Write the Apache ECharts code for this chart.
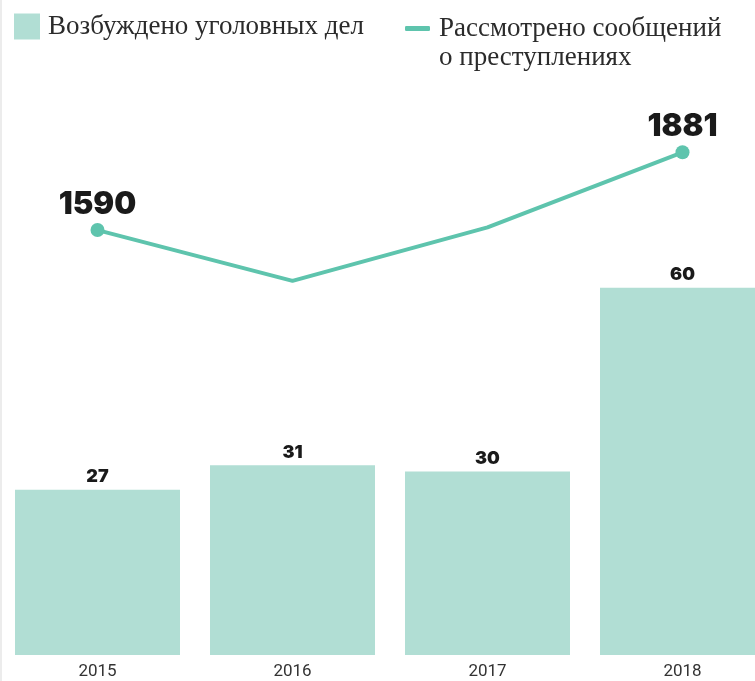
<!DOCTYPE html>
<html><head><meta charset="utf-8">
<script src="https://cdn.jsdelivr.net/npm/echarts@6/dist/echarts.min.js"></script>
<style>
html,body{margin:0;padding:0;overflow:hidden;background:#fff;width:755px;height:681px;}
#c{position:absolute;left:0;top:0;width:780px;height:681px;}
#edge{position:absolute;left:0;top:0;width:2px;height:681px;background:#ececec;}
</style></head>
<body><div id="c"></div><div id="edge"></div>
<script>
const categories = ['2015', '2016', '2017', '2018'];
const casesOpened = [27, 31, 30, 60];
const reportsReviewed = [1590, 1400, 1600, 1881];
const labeledLinePoints = [true, false, false, true];
const barName = 'Возбуждено уголовных дел';
const lineName = 'Рассмотрено сообщений';
const lineNameSecond = 'о преступлениях';

const chart = echarts.init(document.getElementById('c'), null, {renderer: 'canvas'});
const serif = '"Liberation Serif", "DejaVu Serif", serif';
const option = {
  animation: false,
  legend: [
    {
      data: [barName],
      left: 14, top: 13, padding: 0,
      itemWidth: 26, itemHeight: 26, icon: 'rect',
      textStyle: {fontFamily: serif, fontSize: 27, lineHeight: 26, color: '#2b2b2b', padding: [0, 0, 0, 3]},
      selectedMode: false
    },
    {
      data: [lineName],
      left: 405, top: -15, padding: 0,
      itemWidth: 25, itemHeight: 5, icon: 'roundRect',
      formatter: function (n) { return '\n{a|' + n + '}\n{a|' + lineNameSecond + '}'; },
      textStyle: {fontFamily: serif, fontSize: 27, color: '#2b2b2b', lineHeight: 29, padding: [0, 0, 0, 4],
        rich: {a: {fontFamily: serif, fontSize: 27, color: '#2b2b2b', lineHeight: 29}}},
      selectedMode: false
    }
  ],
  grid: {left: 0, right: 0, top: 43, bottom: 26, containLabel: false},
  xAxis: {
    type: 'category', data: categories, boundaryGap: true,
    axisLine: {show: false}, axisTick: {show: false},
    axisLabel: {margin: 8, fontFamily: 'Roboto, sans-serif', fontSize: 17, color: '#333'}
  },
  yAxis: [
    {type: 'value', min: 0, max: 100, show: false, splitLine: {show: false}},
    {type: 'value', min: 0, max: 2290, show: false, splitLine: {show: false}}
  ],
  series: [
    {
      name: barName, type: 'bar', data: casesOpened, barWidth: 165,
      itemStyle: {color: '#b1ded4'},
      label: {show: true, position: 'top', distance: 4, fontFamily: 'Inter, Roboto, sans-serif',
        fontWeight: 900, fontSize: 18, color: '#1a1a1a'}
    },
    {
      name: lineName, type: 'line', yAxisIndex: 1,
      data: reportsReviewed.map((v, i) => labeledLinePoints[i]
        ? {value: v}
        : {value: v, symbol: 'none', label: {show: false}}),
      symbol: 'circle', symbolSize: 14, showAllSymbol: true,
      lineStyle: {color: '#5ec4ad', width: 4},
      itemStyle: {color: '#5ec4ad'},
      label: {show: true, position: 'top', distance: 3, fontFamily: 'Inter, Roboto, sans-serif',
        fontWeight: 900, fontSize: 31, color: '#1a1a1a'},
      z: 5
    }
  ]
};
chart.setOption(option);
</script></body></html>
